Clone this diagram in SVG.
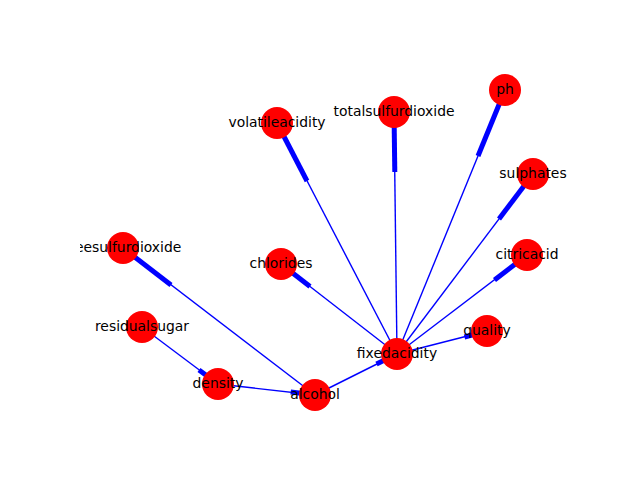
<svg xmlns="http://www.w3.org/2000/svg" width="640" height="480" viewBox="0 0 640 480">
<defs>
<clipPath id="ax"><rect x="80" y="57.6" width="496" height="369.6"/></clipPath>
</defs>
<style>
.e{stroke:#0000ff;stroke-width:1.4;fill:none}
.h{stroke:#0000ff;stroke-width:5}
.n{fill:#ff0000}
.t{font-family:"DejaVu Sans",sans-serif;font-size:13.9px;fill:#000;text-anchor:middle}
</style>
<rect width="640" height="480" fill="#fff"/>
<g id="connectors">
<line class="e" x1="397" y1="354" x2="277" y2="123"/><line class="h" x1="307" y1="181" x2="277" y2="123"/>
<line class="e" x1="397" y1="354" x2="394" y2="112"/><line class="h" x1="394.8" y1="172" x2="394" y2="112"/>
<line class="e" x1="397" y1="354" x2="505" y2="90"/><line class="h" x1="478" y1="156" x2="505" y2="90"/>
<line class="e" x1="397" y1="354" x2="533" y2="174"/><line class="h" x1="499" y1="219" x2="533" y2="174"/>
<line class="e" x1="397" y1="354" x2="527" y2="255"/><line class="h" x1="494.5" y1="280" x2="527" y2="255"/>
<line class="e" x1="397" y1="354" x2="487" y2="331"/><line class="h" x1="464.5" y1="337" x2="487" y2="331"/>
<line class="e" x1="397" y1="354" x2="281" y2="264"/><line class="h" x1="310" y1="286.5" x2="281" y2="264"/>
<line class="e" x1="315" y1="395" x2="397" y2="354"/><line class="h" x1="376.5" y1="364" x2="397" y2="354"/>
<line class="e" x1="315" y1="395" x2="123" y2="248"/><line class="h" x1="171" y1="285" x2="123" y2="248"/>
<line class="e" x1="218" y1="384" x2="315" y2="395"/><line class="h" x1="290.7" y1="392" x2="315" y2="395"/>
<line class="e" x1="142" y1="327" x2="218" y2="384"/><line class="h" x1="199" y1="370" x2="218" y2="384"/>
</g>
<g id="nodes">
<g id="volatileacidity"><circle class="n" cx="277" cy="123" r="16"/></g>
<g id="totalsulfurdioxide"><circle class="n" cx="394" cy="112" r="16"/></g>
<g id="ph"><circle class="n" cx="505" cy="90" r="16"/></g>
<g id="sulphates"><circle class="n" cx="533" cy="174" r="16"/></g>
<g id="citricacid"><circle class="n" cx="527" cy="255" r="16"/></g>
<g id="quality"><circle class="n" cx="487" cy="331" r="16"/></g>
<g id="fixedacidity"><circle class="n" cx="397" cy="354" r="16"/></g>
<g id="alcohol"><circle class="n" cx="315" cy="395" r="16"/></g>
<g id="chlorides"><circle class="n" cx="281" cy="264" r="16"/></g>
<g id="freesulfurdioxide"><circle class="n" cx="123" cy="248" r="16"/></g>
<g id="residualsugar"><circle class="n" cx="142" cy="327" r="16"/></g>
<g id="density"><circle class="n" cx="218" cy="384" r="16"/></g>
</g>
<g id="labels" clip-path="url(#ax)">
<text class="t" x="277" y="127">volatileacidity</text>
<text class="t" x="394" y="116">totalsulfurdioxide</text>
<text class="t" x="505" y="94">ph</text>
<text class="t" x="533" y="178">sulphates</text>
<text class="t" x="527" y="259">citricacid</text>
<text class="t" x="487" y="335">quality</text>
<text class="t" x="397" y="358">fixedacidity</text>
<text class="t" x="315" y="399">alcohol</text>
<text class="t" x="281" y="268">chlorides</text>
<text class="t" x="123" y="252">freesulfurdioxide</text>
<text class="t" x="142" y="331">residualsugar</text>
<text class="t" x="218" y="388">density</text>
</g>
</svg>
